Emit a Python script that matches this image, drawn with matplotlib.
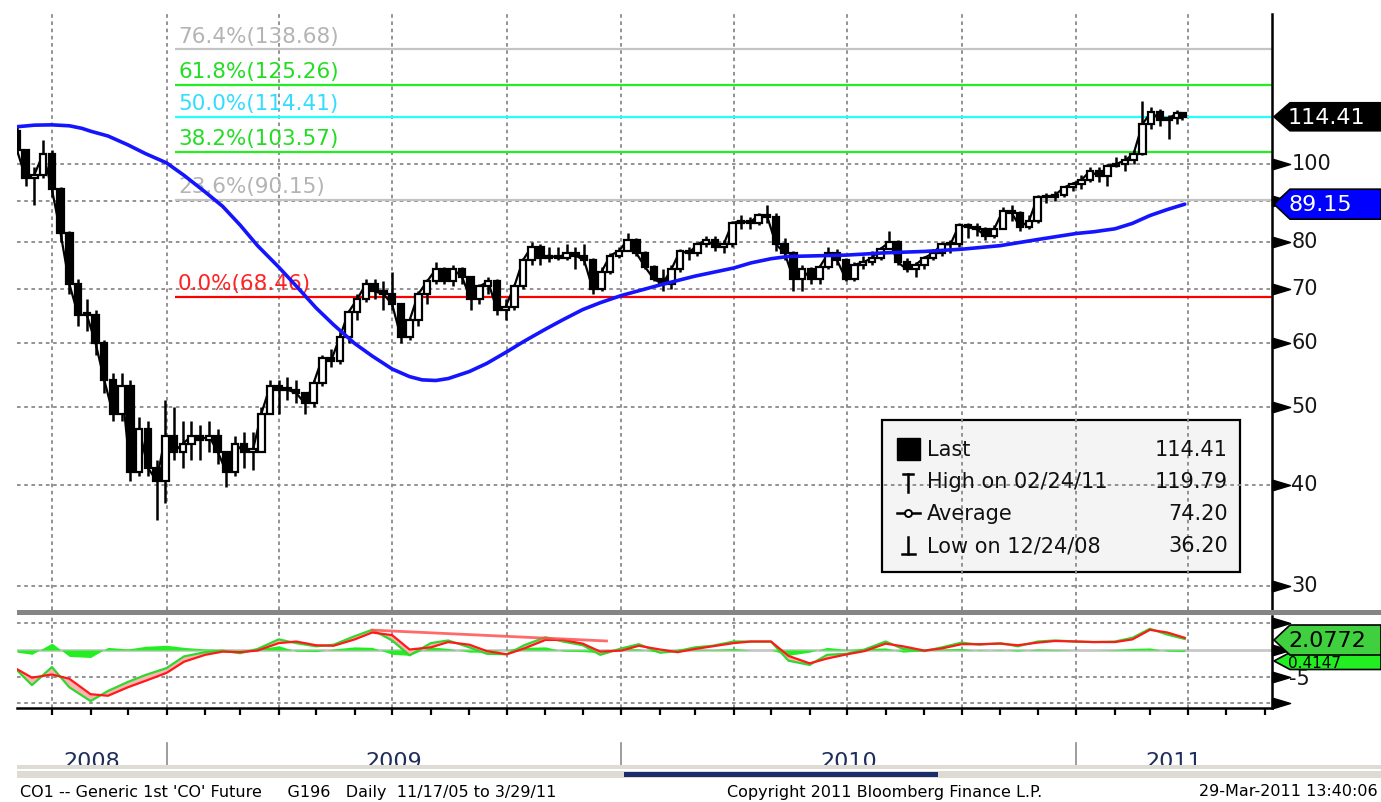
import numpy as np
import pandas as pd
import matplotlib
matplotlib.use("Agg")
import matplotlib.pyplot as plt
import matplotlib.dates as mdates
import matplotlib.transforms as mtrans
from matplotlib.patches import Rectangle, Polygon
from matplotlib.lines import Line2D

plt.rcParams['font.family'] = ['DejaVu Sans']

# ---- price data: weekly bars (week ending Friday), last bar is Tue 29-Mar-2011
week_end = list(pd.date_range('2008-09-05', '2011-03-25', freq='W-FRI')) + [pd.Timestamp('2011-03-29')]
first_open = 110

close = [
    # 2008
    104, 96, 97, 103, 93, 82, 71, 65, 65, 60, 54, 49, 53, 41.5, 47, 42, 40.5,
    # 2009
    46, 44, 45, 46, 45.5, 46, 44, 41.5, 45, 44, 44, 49, 53, 52.5, 52.5, 52, 50.5,
    53.5, 57.5, 57, 61, 65.5, 68, 71, 69.5, 69, 67, 61, 64, 69, 71.5,
    74, 71.5, 74, 72.5, 68, 70.5, 71.5, 66, 66.5, 70.5, 76, 79, 76.5,
    77, 76.5, 77.5, 77, 76, 70, 73.5, 77,
    # 2010
    78, 80.5, 77.5, 74.5, 72, 71, 74, 78, 77.5, 79.5, 80.5, 79, 79.5,
    84.5, 85, 84.5, 86.5, 86, 79.5, 77.5, 72, 74, 72, 74.5, 77.5, 76,
    72, 75, 75.5, 76.5, 78.5, 80, 75.5, 74, 75, 76.5, 77.5, 79.5, 79.5,
    84, 83.5, 83, 81.5, 83, 87.5, 87, 83.5, 85, 91, 91, 91.5, 93.5, 94.5,
    # 2011
    95.5, 98, 96.5, 99.5, 100, 101, 103, 112, 116, 113.5, 114, 115.5, 114.41,
]
high = [
    111, 104.5, 99, 107, 104, 93.5, 82.5, 72, 68, 66, 60.5, 55, 55, 54, 48.5, 48, 43,
    51, 50, 48, 48, 47.5, 48, 47, 44, 46, 46.5, 46.5, 50, 54, 54, 54.5, 54, 52,
    54, 58, 59, 62, 66, 69, 72, 72, 71.5, 73.5, 67, 64.5, 69.5, 72,
    75.5, 74.5, 75, 74.5, 72.5, 71, 72.5, 72, 68, 71, 76.5, 80, 79.5,
    79, 79, 79.5, 79, 79.5, 76.5, 74.5, 77.5,
    79, 82, 81, 78, 75, 74, 75, 78.5, 79, 80, 81.5, 81.5, 80.5,
    85, 86.5, 86, 87, 89, 87, 81, 78, 75, 74.5, 75, 79, 78.5,
    76.5, 75.5, 77, 78, 79, 82.5, 80.5, 76.5, 75.5, 77, 78.5, 80, 80.5,
    84.5, 84.5, 84.5, 83.5, 84, 88.5, 89, 87.5, 86.5, 91.5, 92, 92.5, 94, 95,
    97, 99, 99, 100, 102, 102.5, 104, 119.79, 117.5, 117, 115, 116.5, 116,
]
low = [
    103, 94, 89, 96, 91, 80, 69, 63, 62, 58, 52, 48, 48, 40.5, 41, 41, 36.2,
    38, 43, 42, 43, 43, 44, 42.5, 39.8, 41, 42, 41.8, 44, 49, 49, 51, 50.5, 49,
    50, 53, 56, 56.5, 60, 64, 67.5, 68, 66, 66, 60, 60.5, 63, 67,
    71, 71, 70.5, 71, 66, 67, 69, 65, 64, 66, 70, 75, 75,
    75.5, 76, 76, 74, 75, 69, 69.5, 73,
    76.5, 78, 77, 74, 71.5, 69.5, 70, 73.5, 76, 77, 79, 78, 77.5,
    79, 83, 83, 84, 84.5, 78, 76, 69.5, 69.5, 71, 71, 74, 75,
    71.5, 71.5, 74, 75, 76, 78.5, 75, 73.5, 72.5, 74, 76, 77, 77.5,
    79, 81, 81.5, 80.5, 81, 83, 85, 82.5, 83, 84.5, 89.5, 90, 91, 92.5,
    93, 95, 95, 94, 99, 98, 100, 102.5, 110.5, 111.5, 107.5, 112, 113.5,
]

# ---- moving average (blue)
ma_dates = ['2008-09-03', '2008-09-17', '2008-10-01', '2008-10-15', '2008-10-25', '2008-11-01',
            '2008-11-15', '2008-12-01', '2008-12-15', '2009-01-01', '2009-01-15', '2009-02-01',
            '2009-02-15', '2009-03-01', '2009-03-15', '2009-04-01', '2009-04-15', '2009-05-01',
            '2009-05-15', '2009-06-01', '2009-06-15', '2009-07-01', '2009-07-15', '2009-07-25',
            '2009-08-05', '2009-08-15', '2009-09-01', '2009-09-15', '2009-10-01', '2009-10-15',
            '2009-11-01', '2009-11-15', '2009-12-01', '2009-12-15', '2010-01-01', '2010-02-01',
            '2010-03-01', '2010-04-01', '2010-04-15', '2010-05-01', '2010-05-15', '2010-06-01',
            '2010-07-01', '2010-08-01', '2010-09-01', '2010-10-01', '2010-11-01', '2010-12-01',
            '2011-01-01', '2011-01-15', '2011-02-01', '2011-02-15', '2011-03-01', '2011-03-15',
            '2011-03-29']
ma_vals = [111.2, 111.7, 111.8, 111.5, 110.7, 109.8, 108.3, 105.6, 103, 100.3, 96.8, 92.3,
           88.6, 84, 79.2, 74.5, 70.6, 66.3, 63.2, 59.9, 57.8, 55.7, 54.5, 54.0,
           53.9, 54.2, 55.3, 56.6, 58.5, 60.3, 62.4, 64.1, 66.0, 67.3, 68.7, 70.8,
           72.6, 74.3, 75.4, 76.3, 76.8, 76.9, 77.1, 77.6, 77.9, 78.4, 79.2, 80.6,
           82.0, 82.4, 83.1, 84.4, 86.3, 87.8, 89.15]

# ---- fibonacci retracement
fib_pct = ['76.4%', '61.8%', '50.0%', '38.2%', '23.6%', '0.0%']
fib_lvl = [138.68, 125.26, 114.41, 103.57, 90.15, 68.46]
fib_line_col = ['#c4c4c4', '#22ee22', '#22ffff', '#22ee22', '#c4c4c4', '#ff0000']
fib_text_col = ['#b4b4b4', '#22dd22', '#33ddff', '#22dd22', '#b4b4b4', '#ff2222']
fib_start = '2009-01-08'

# ---- lower panel indicator (1st and 15th of each month)
ind_dates = ['2008-09-03']
for m in pd.date_range('2008-09-01', '2011-03-01', freq='MS'):
    if m != pd.Timestamp('2008-09-01'):
        ind_dates.append(m.strftime('%Y-%m-%d'))
    ind_dates.append((m + pd.Timedelta(days=14)).strftime('%Y-%m-%d'))
ind_dates.append('2011-03-29')

osc_green = [
    -3.8, -6.6, -3.2, -7.0, -9.6, -7.7, -6.0, -4.7,
    -3.4, -1.2, -0.4, -0.1, -0.6, 0.2, 2.0, 1.3, 0.7, 1.0, 2.6, 3.8,
    1.8, -1.0, 1.3, 1.8, 0.5, -0.7, -0.8, 0.9, 2.4, 1.6, 0.9, -0.9,
    0.3, 1.1, -0.5, -0.2, 0.5, 0.8, 1.6, 1.6, 1.6, -2.0, -2.8, -0.9,
    -0.7, 0.1, 1.6, 0.2, -0.2, 0.5, 1.4, 1.0, 1.3, 0.7, 1.6, 1.8,
    1.6, 1.5, 1.6, 2.3, 4.0, 2.9, 2.08,
]
osc_red = [
    -3.6, -5.2, -4.6, -5.4, -8.3, -8.6, -7.0, -5.8,
    -4.3, -2.2, -0.9, -0.3, -0.4, -0.1, 1.3, 1.6, 0.9, 0.8, 2.0, 3.3,
    2.8, 0.1, 0.5, 1.5, 1.0, -0.2, -0.8, 0.3, 1.9, 1.9, 1.2, -0.3,
    -0.1, 0.8, 0.1, -0.4, 0.2, 0.7, 1.3, 1.6, 1.6, -1.1, -2.5, -1.6,
    -0.8, -0.2, 1.2, 0.7, -0.1, 0.3, 1.1, 1.1, 1.2, 0.9, 1.4, 1.7,
    1.6, 1.5, 1.5, 2.0, 3.8, 3.3, 2.3,
]
osc_hist = [
    -0.4, -0.8, 1.3, -1.2, -1.4, 0.5, 0.2, 0.7,
    0.9, 0.5, 0.2, 0.1, -0.3, 0.2, 0.8, -0.2, -0.3, 0.2, 0.6, 0.5,
    -0.8, -1.0, 0.6, 0.3, -0.4, -0.4, 0.1, 0.5, 0.6, -0.2, -0.3, -0.5,
    0.3, 0.2, -0.5, 0.2, 0.2, 0.1, 0.3, 0.0, 0.0, -1.0, -0.4, 0.5,
    0.1, 0.3, 0.4, -0.4, -0.1, 0.2, 0.3, -0.1, 0.1, -0.2, 0.2, 0.1,
    0.0, 0.0, 0.1, 0.3, 0.4, -0.2, -0.3,
]
trend_dates = ['2009-06-15', '2009-12-20']
trend_vals = [3.75, 1.7]

price_ticks = [30, 40, 50, 60, 70, 80, 90, 100]
price_labels = {30: '30', 40: '40', 50: '50', 60: '60', 70: '70', 80: '80', 100: '100'}
osc_ticks = [5, 0, -5, -10]

legend_rows = [('Last', '114.41'), ('High on 02/24/11', '119.79'),
               ('Average', '74.20'), ('Low on 12/24/08', '36.20')]
last_price = 114.41
last_ma = 89.15
osc_last = ['2.0772', '0.4147']

assert len(close) == len(high) == len(low) == len(week_end)
assert len(osc_green) == len(osc_red) == len(osc_hist) == len(ind_dates)
assert len(ma_dates) == len(ma_vals)

# ---------------------------------------------------------------------------
W, H = 1381, 802
fig = plt.figure(figsize=(W / 100, H / 100), dpi=100)


def fx(x):
    return x / W


def fy(y):
    return 1 - y / H


ax = fig.add_axes([fx(17), fy(610), fx(1272) - fx(17), fy(14) - fy(610)])
ax2 = fig.add_axes([fx(17), fy(708), fx(1272) - fx(17), fy(616) - fy(708)])

xmin, xmax = mdates.date2num(pd.Timestamp('2008-09-03')), mdates.date2num(pd.Timestamp('2011-06-07'))
quarters = mdates.date2num(pd.date_range('2008-10-01', '2011-04-01', freq='QS'))
grid_kw = dict(color='#8a8a8a', lw=1.3, ls=(0, (2, 2)), zorder=1)

# ---- main panel
ax.set_yscale('log')
ax.set_xlim(xmin, xmax)
ax.set_ylim(28.0, 153.4)
ax.set_yticks([])
ax.set_yticks([], minor=True)
ax.set_xticks([])
for s in ['left', 'top', 'bottom']:
    ax.spines[s].set_visible(False)
ax.spines['right'].set_linewidth(1.8)

for v in price_ticks:
    ax.axhline(v, **grid_kw)
for q in quarters:
    ax.axvline(q, **grid_kw)

# fibonacci lines + labels
fs = mdates.date2num(pd.Timestamp(fib_start))
for p, lv, lc, tc in zip(fib_pct, fib_lvl, fib_line_col, fib_text_col):
    ax.hlines(lv, fs, xmax, color=lc, lw=1.6, zorder=2)
    ax.annotate(f'{p}({lv:.2f})', (fs, lv), xytext=(2, 2), textcoords='offset points',
                color=tc, fontsize=15.5, va='bottom', ha='left', zorder=2.5)

# candles
wx = mdates.date2num(pd.DatetimeIndex(week_end)) - 2
c = np.array(close, float)
o = np.array([first_open] + close[:-1], float)
hi = np.array(high, float)
lo = np.array(low, float)
ax.plot(wx, c, color='black', lw=1.6, zorder=3.9)
ax.vlines(wx, lo, hi, color='black', lw=1.8, zorder=4)
up = c >= o
bot = np.minimum(o, c)
hgt = np.maximum(np.abs(c - o), 0.3)
ax.bar(wx[up], hgt[up], bottom=bot[up], width=5.2, color='white', edgecolor='black', lw=1.6, zorder=4.2)
ax.bar(wx[~up], hgt[~up], bottom=bot[~up], width=5.2, color='black', edgecolor='black', lw=1.6, zorder=4.2)

# moving average
ax.plot(mdates.date2num(pd.to_datetime(ma_dates)), ma_vals, color='#1414ff', lw=2.6, zorder=5,
        solid_joinstyle='round', solid_capstyle='round')

# legend box (gridlines show through it, as in the original)
lb = Rectangle((fx(882), fy(572)), fx(1240) - fx(882), fy(420) - fy(572), transform=fig.transFigure,
               facecolor='#f4f4f4', edgecolor='black', lw=1.6, zorder=0.8, clip_on=False)
ax.add_patch(lb)

# right axis triangles + labels
tri = [(0, -0.3), (0, 0.3), (1, 0), (0, -0.3)]
bl = mtrans.blended_transform_factory(ax.transAxes, ax.transData)
ax.plot([1.0] * len(price_ticks), price_ticks, transform=bl, marker=tri, ms=26, ls='none',
        color='black', clip_on=False, zorder=6)
for v, t in price_labels.items():
    ax.text(1.0155, v, t, transform=bl, va='center', ha='left', fontsize=15, color='#161616', clip_on=False)

# ---- lower panel
ax2.set_xlim(xmin, xmax)
ax2.set_ylim(-10.9, 6.4)
for s in ['left', 'top']:
    ax2.spines[s].set_visible(False)
ax2.spines['right'].set_linewidth(1.8)
ax2.spines['bottom'].set_linewidth(1.8)
ax2.set_yticks([])
ax2.xaxis.set_major_locator(mdates.MonthLocator())
ax2.tick_params(axis='x', direction='out', length=5, width=1.6, labelbottom=False)
for v in [5, -5, -10]:
    ax2.axhline(v, **grid_kw)
ax2.axhline(0, color='#c8c8c8', lw=2, zorder=1)
for q in quarters:
    ax2.axvline(q, **grid_kw)

ix = mdates.date2num(pd.to_datetime(ind_dates))
ax2.fill_between(ix, 0, osc_hist, color='#22ee22', lw=0, zorder=2)
ax2.fill_between(ix, osc_green, osc_red, color='#ffb4b4', lw=0, zorder=2.5)
ax2.plot(ix, osc_green, color='#2ed82e', lw=1.6, zorder=3)
ax2.plot(ix, osc_red, color='#ff1a1a', lw=1.6, zorder=3.2)
ax2.plot(mdates.date2num(pd.to_datetime(trend_dates)), trend_vals, color='#ff5050', lw=2, alpha=0.85, zorder=3.5)

bl2 = mtrans.blended_transform_factory(ax2.transAxes, ax2.transData)
ax2.plot([1.0] * len(osc_ticks), osc_ticks, transform=bl2, marker=tri, ms=26, ls='none',
         color='black', clip_on=False, zorder=6)
ax2.text(1.0135, -5.4, '-5', transform=bl2, va='center', ha='left', fontsize=15, color='#161616', clip_on=False)


# ---- value flags on the right axis
def ypix(axis, v):
    return H - axis.transData.transform((xmin, v))[1]


def flag(yc, h, fc, txt, tc, fsz, z, dy=1):
    pts = [(1274, yc), (1290, yc - h / 2), (1381, yc - h / 2), (1381, yc + h / 2), (1290, yc + h / 2)]
    fig.add_artist(Polygon([(fx(a), fy(b)) for a, b in pts], closed=True, transform=fig.transFigure,
                           facecolor=fc, edgecolor='black', lw=1.2, zorder=z))
    fig.text(fx(1288), fy(yc + dy), txt, color=tc, fontsize=fsz, va='center', ha='left', zorder=z + 0.1)


flag(ypix(ax, last_price), 28, 'black', f'{last_price:.2f}', 'white', 16, 10)
flag(ypix(ax, last_ma), 30, '#0000ff', f'{last_ma:.2f}', 'white', 16, 10)
flag(661, 17, '#22ee22', osc_last[1], 'black', 11, 10, dy=2)
flag(640, 30, '#3fcf3f', osc_last[0], 'black', 16, 11)

# ---- separator between panels
fig.add_artist(Rectangle((fx(17), fy(615)), 1 - fx(17), fy(610) - fy(615), transform=fig.transFigure,
                         facecolor='#858585', edgecolor='none', zorder=9))

# ---- legend contents
rows_y = [450, 482, 514, 546]
for (lab, val), yy in zip(legend_rows, rows_y):
    fig.text(fx(927), fy(yy), lab, fontsize=15, va='center', ha='left', color='#111111', zorder=12)
    fig.text(fx(1228), fy(yy), val, fontsize=15, va='center', ha='right', color='#111111', zorder=12)
fig.add_artist(Rectangle((fx(897), fy(460)), fx(920) - fx(897), fy(438) - fy(460), transform=fig.transFigure,
                         facecolor='black', edgecolor='black', zorder=12))
sym = dict(color='black', lw=1.8, transform=fig.transFigure, zorder=12)
fig.add_artist(Line2D([fx(908), fx(908)], [fy(474), fy(492)], **sym))
fig.add_artist(Line2D([fx(903), fx(913)], [fy(474), fy(474)], **sym))
fig.add_artist(Line2D([fx(897), fx(920)], [fy(513), fy(513)], **sym))
fig.add_artist(Line2D([fx(908)], [fy(513)], marker='o', ms=5, mfc='white', mec='black', mew=1.4,
                      transform=fig.transFigure, zorder=13))
fig.add_artist(Line2D([fx(908), fx(908)], [fy(537), fy(554)], **sym))
fig.add_artist(Line2D([fx(902), fx(915)], [fy(554), fy(554)], **sym))

# ---- year row
years = ['2008', '2009', '2010', '2011']
edges = [xmin] + list(mdates.date2num(pd.to_datetime(['2009-01-01', '2010-01-01', '2011-01-01']))) + [xmax]
to_px = lambda xv: ax.transData.transform((xv, 50))[0]
for i, yr in enumerate(years):
    xc = (to_px(edges[i]) + to_px(edges[i + 1])) / 2
    fig.text(xc / W, fy(762), yr, fontsize=16, ha='center', va='center', color='#1f2d5a', zorder=5)
for e in edges[1:-1]:
    xp = to_px(e)
    fig.add_artist(Line2D([xp / W, xp / W], [fy(743), fy(766)], color='#8c8c8c', lw=1.2,
                          transform=fig.transFigure, zorder=5))

# scroll strip at the bottom (clips the year labels)
fig.add_artist(Rectangle((fx(17), fy(778)), 1 - fx(17), fy(765) - fy(778), transform=fig.transFigure,
                         facecolor='#dedbd4', edgecolor='none', zorder=20))
fig.add_artist(Rectangle((fx(17), fy(771)), 1 - fx(17), fy(769) - fy(771), transform=fig.transFigure,
                         facecolor='white', edgecolor='none', zorder=21))
fig.add_artist(Rectangle((fx(624), fy(777)), fx(938) - fx(624), fy(772) - fy(777), transform=fig.transFigure,
                         facecolor='#1b2c6c', edgecolor='none', zorder=22))

# ---- footer
fig.text(fx(20), fy(792), "CO1 -- Generic 1st 'CO' Future     G196   Daily  11/17/05 to 3/29/11",
         fontsize=11.5, va='center', ha='left', color='black')
fig.text(fx(727), fy(792), 'Copyright 2011 Bloomberg Finance L.P.', fontsize=11.5, va='center', ha='left')
fig.text(fx(1378), fy(792), '29-Mar-2011 13:40:06', fontsize=11.5, va='center', ha='right')

fig.savefig('out.png', dpi=100, facecolor='white')
